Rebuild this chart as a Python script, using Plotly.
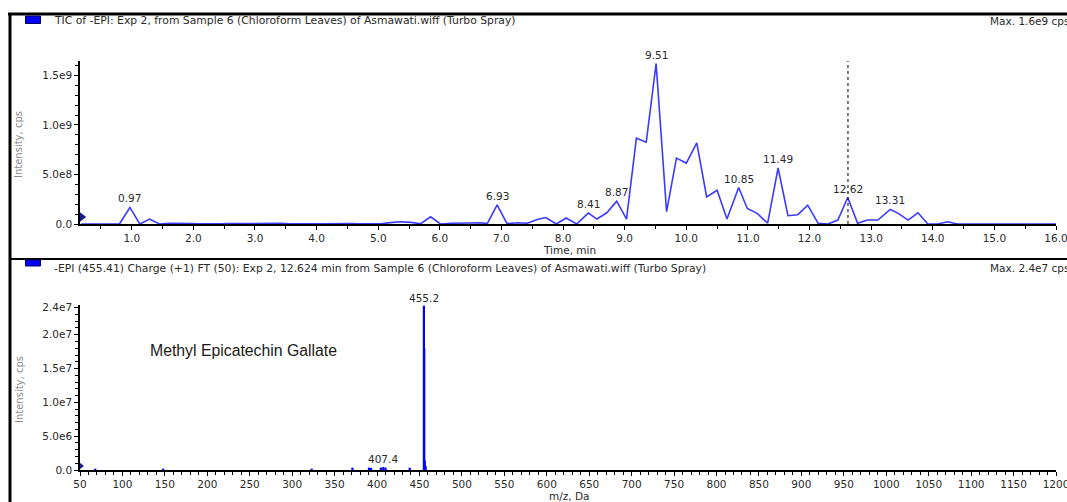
import plotly.graph_objects as go

# ---- TIC chromatogram (retention time in min, intensity in cps) ----
tic_time = [0.18, 0.80, 0.97, 1.13, 1.29, 1.45, 1.61, 1.78, 1.94, 2.10, 2.26, 2.43,
            2.59, 2.75, 2.92, 3.08, 3.24, 3.41, 3.57, 3.73, 3.90, 4.06, 4.22, 4.39,
            4.55, 4.71, 4.88, 5.04, 5.20, 5.36, 5.53, 5.69, 5.85, 6.01, 6.18, 6.34,
            6.50, 6.66, 6.77, 6.93, 7.09, 7.26, 7.42, 7.58, 7.72, 7.89, 8.05, 8.22,
            8.41, 8.55, 8.71, 8.87, 9.03, 9.19, 9.35, 9.51, 9.68, 9.84, 10.00, 10.17,
            10.33, 10.50, 10.66, 10.85, 10.99, 11.15, 11.32, 11.49, 11.65, 11.81, 11.97,
            12.14, 12.30, 12.46, 12.62, 12.78, 12.94, 13.11, 13.31, 13.44, 13.60, 13.76,
            13.92, 14.08, 14.24, 14.40, 14.56, 15.00, 15.50, 16.00]
tic_int = [0.000e9, 0.000e9, 0.167e9, 0.000e9, 0.050e9, 0.000e9, 0.006e9, 0.008e9,
           0.004e9, 0.003e9, 0.006e9, 0.002e9, 0.004e9, 0.005e9, 0.002e9, 0.004e9,
           0.003e9, 0.006e9, 0.002e9, 0.006e9, 0.003e9, 0.002e9, 0.004e9, 0.003e9,
           0.005e9, 0.002e9, 0.003e9, 0.002e9, 0.014e9, 0.022e9, 0.016e9, 0.003e9,
           0.073e9, 0.000e9, 0.008e9, 0.012e9, 0.010e9, 0.012e9, 0.004e9, 0.194e9,
           0.004e9, 0.012e9, 0.008e9, 0.045e9, 0.065e9, 0.000e9, 0.060e9, 0.000e9,
           0.110e9, 0.050e9, 0.113e9, 0.230e9, 0.050e9, 0.866e9, 0.826e9, 1.618e9,
           0.124e9, 0.665e9, 0.615e9, 0.819e9, 0.274e9, 0.341e9, 0.050e9, 0.368e9,
           0.157e9, 0.107e9, 0.008e9, 0.565e9, 0.084e9, 0.094e9, 0.190e9, 0.007e9,
           0.000e9, 0.040e9, 0.267e9, 0.007e9, 0.040e9, 0.040e9, 0.147e9, 0.107e9,
           0.040e9, 0.113e9, 0.000e9, 0.000e9, 0.023e9, 0.000e9, 0.000e9, 0.000e9,
           0.000e9, 0.000e9]
tic_peak_labels = [0.97, 6.93, 8.41, 8.87, 9.51, 10.85, 11.49, 12.62, 13.31]
selected_time = 12.624

# ---- EPI spectrum at 12.624 min (m/z in Da, intensity in cps) ----
ms_mz = [68.0, 148.0, 323.0, 371.0, 390.5, 393.0, 404.5, 407.4, 410.0, 438.5,
         455.2, 455.6, 456.2, 457.2]
ms_int = [2.0e5, 2.0e5, 2.0e5, 3.5e5, 3.5e5, 3.0e5, 3.5e5, 4.5e5, 3.5e5, 3.5e5,
          2.43e7, 1.80e7, 1.4e6, 6.0e5]
ms_peak_labels = [407.4, 455.2]

top_title = "TIC of -EPI: Exp 2, from Sample 6 (Chloroform Leaves) of Asmawati.wiff (Turbo Spray)"
bot_title = ("-EPI (455.41) Charge (+1) FT (50): Exp 2, 12.624 min from Sample 6 "
             "(Chloroform Leaves) of Asmawati.wiff (Turbo Spray)")
top_max = "Max. 1.6e9 cps"
bot_max = "Max. 2.4e7 cps"
compound = "Methyl Epicatechin Gallate"

W, H = 1067, 502
FONT = "DejaVu Sans"
TXT = "#2a2a2a"


def px(v):
    return v / W


def py(v):
    return 1 - v / H


fig = go.Figure()

# chromatogram trace
fig.add_trace(go.Scatter(x=tic_time, y=tic_int, mode="lines",
                         line=dict(color="#3b3bff", width=1.6),
                         xaxis="x", yaxis="y", hoverinfo="skip"))

# spectrum sticks
sx, sy = [], []
for m, h in zip(ms_mz, ms_int):
    sx += [m, m, None]
    sy += [0, h, None]
fig.add_trace(go.Scatter(x=sx, y=sy, mode="lines",
                         line=dict(color="#0000ff", width=2.2),
                         xaxis="x2", yaxis="y2", hoverinfo="skip"))

# small threshold markers at the left edge of each pane
fig.add_trace(go.Scatter(x=[0.18], y=[0.07e9], mode="markers",
                         marker=dict(symbol="triangle-right", size=10, color="#1c1c8a"),
                         xaxis="x", yaxis="y", cliponaxis=False, hoverinfo="skip"))
fig.add_trace(go.Scatter(x=[50], y=[6e5], mode="markers",
                         marker=dict(symbol="triangle-right", size=8, color="#1c1c8a"),
                         xaxis="x2", yaxis="y2", cliponaxis=False, hoverinfo="skip"))

ann = []
# peak time labels
for t in tic_peak_labels:
    i = tic_time.index(t)
    ann.append(dict(x=t, y=tic_int[i], xref="x", yref="y", text=f"{t:.2f}",
                    showarrow=False, yanchor="bottom", yshift=1,
                    font=dict(family=FONT, size=10.5, color=TXT)))
for m in ms_peak_labels:
    i = ms_mz.index(m)
    ann.append(dict(x=m, y=ms_int[i], xref="x2", yref="y2", text=f"{m:.1f}",
                    showarrow=False, yanchor="bottom", yshift=0,
                    font=dict(family=FONT, size=10.5, color=TXT)))

# pane headers
for ytxt, title, mx in [(21, top_title, top_max), (268, bot_title, bot_max)]:
    ann.append(dict(x=px(52), y=py(ytxt), xref="paper", yref="paper", text=title,
                    showarrow=False, xanchor="left", yanchor="middle",
                    font=dict(family=FONT, size=10.8, color=TXT)))
    ann.append(dict(x=px(1071), y=py(ytxt), xref="paper", yref="paper", text=mx,
                    showarrow=False, xanchor="right", yanchor="middle",
                    font=dict(family=FONT, size=10.5, color=TXT)))

# axis titles
ann.append(dict(x=px(569), y=py(250), xref="paper", yref="paper", text="Time, min",
                showarrow=False, yanchor="middle",
                font=dict(family=FONT, size=10.5, color=TXT)))
ann.append(dict(x=px(569), y=py(496), xref="paper", yref="paper", text="m/z, Da",
                showarrow=False, yanchor="middle",
                font=dict(family=FONT, size=10.5, color=TXT)))
for yc in (145, 390):
    ann.append(dict(x=px(19), y=py(yc), xref="paper", yref="paper", text="Intensity, cps",
                    showarrow=False, textangle=-90, yanchor="middle", xanchor="center",
                    font=dict(family=FONT, size=10, color="#8a8a8a")))

ann.append(dict(x=130, y=1.76e7, xref="x2", yref="y2", text=compound, showarrow=False,
                xanchor="left", yanchor="middle",
                font=dict(family="Liberation Sans", size=15.8, color="#1a1a1a")))

shapes = [
    # outer frame and pane separator
    dict(type="line", xref="paper", yref="paper", x0=px(8), x1=px(1070), y0=py(14), y1=py(14),
         line=dict(color="black", width=3)),
    dict(type="line", xref="paper", yref="paper", x0=px(10), x1=px(10), y0=py(13), y1=py(510),
         line=dict(color="black", width=3)),
    dict(type="line", xref="paper", yref="paper", x0=px(10), x1=px(1070), y0=py(259), y1=py(259),
         line=dict(color="black", width=2)),
    # pane colour keys
    dict(type="rect", xref="paper", yref="paper", x0=px(25.5), x1=px(40.5), y0=py(16), y1=py(23.5),
         fillcolor="#0000ff", line=dict(color="#000060", width=1)),
    dict(type="rect", xref="paper", yref="paper", x0=px(25.5), x1=px(40.5), y0=py(260), y1=py(266),
         fillcolor="#0000ff", line=dict(color="#000060", width=1)),
    # selected retention time cursor
    dict(type="line", xref="x", yref="y", x0=selected_time, x1=selected_time, y0=0, y1=1.645e9,
         line=dict(color="black", width=1, dash="dot"), layer="above"),
]

tickfont = dict(family=FONT, size=10.5, color=TXT)
common = dict(showgrid=False, zeroline=False, showline=True, linecolor="black", linewidth=1.5,
              ticks="outside", ticklen=4, tickwidth=1, tickcolor="black",
              tickfont=tickfont, automargin=False, ticklabeloverflow="allow")
dom_x = [px(80), px(1056)]

fig.update_layout(
    width=W, height=H, margin=dict(l=0, r=0, t=0, b=0),
    paper_bgcolor="white", plot_bgcolor="white", showlegend=False,
    xaxis=dict(domain=dom_x, anchor="y", range=[0.16, 16.0], tick0=0, dtick=1,
               tickformat=".1f", minor=dict(dtick=0.5, ticklen=3, tickcolor="black"), **common),
    yaxis=dict(domain=[py(224), py(61)], anchor="x", range=[0, 1.645e9],
               tickmode="array", tickvals=[0, 5e8, 1e9, 1.5e9],
               ticktext=["0.0", "5.0e8", "1.0e9", "1.5e9"],
               minor=dict(tickmode="linear", tick0=0, dtick=1e8, ticklen=3, tickcolor="black"),
               **common),
    xaxis2=dict(domain=dom_x, anchor="y2", range=[50, 1200], tick0=50, dtick=50,
                minor=dict(dtick=10, ticklen=3, tickcolor="black"), **common),
    yaxis2=dict(domain=[py(470), py(305)], anchor="x2", range=[0, 2.44e7],
                tickmode="array", tickvals=[0, 5e6, 1e7, 1.5e7, 2e7, 2.4e7],
                ticktext=["0.0", "5.0e6", "1.0e7", "1.5e7", "2.0e7", "2.4e7"],
                minor=dict(tickmode="linear", tick0=0, dtick=1e6, ticklen=3, tickcolor="black"),
                **common),
    annotations=ann, shapes=shapes,
)

fig.write_html("out.html")
